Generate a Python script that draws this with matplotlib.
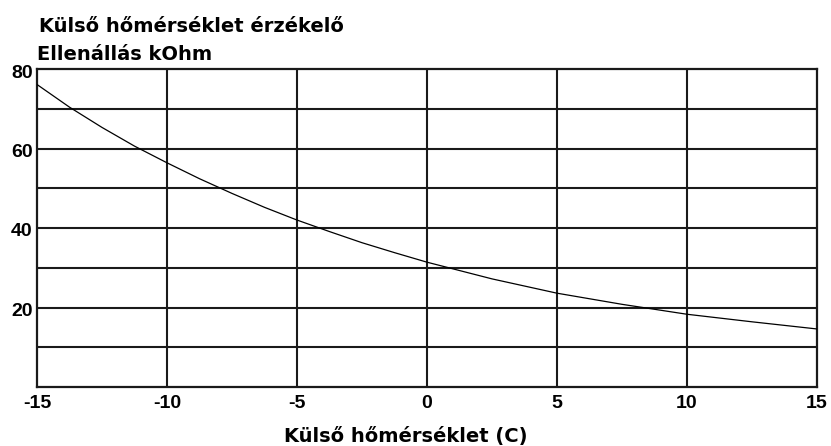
import matplotlib
matplotlib.use("Agg")
from matplotlib import pyplot as plt
from matplotlib import transforms

# ellenállás görbe (kOhm) a külső hőmérséklet függvényében
temps = [-15, -13.75, -12.5, -11.25, -10, -8.75, -7.5, -6.25, -5, -3.75, -2.5, -1.25, 0,
         2.5, 5, 7.5, 10, 12.5, 15]
resistance = [76.1, 70.4, 65.3, 60.6, 56.4, 52.4, 48.7, 45.2, 42.0, 39.1, 36.3, 33.8, 31.4,
              27.2, 23.6, 20.8, 18.3, 16.4, 14.6]

x_ticks = [-15, -10, -5, 0, 5, 10, 15]
y_ticks = [20, 40, 60, 80]
y_grid = [10, 20, 30, 40, 50, 60, 70]

title_lines = ["Külső hőmérséklet érzékelő", "Ellenállás kOhm"]
x_label = "Külső hőmérséklet (C)"

TICK_FONT = dict(family="Liberation Sans", weight="bold", size=14)
TEXT_FONT = dict(family="DejaVu Sans", weight="bold", size=14)


def plot_sensor():
    fig = plt.figure(figsize=(8.31, 4.46), dpi=100)
    ax = fig.add_axes([37 / 831, 1 - 387 / 446, 780 / 831, 318 / 446])

    for x in x_ticks[1:-1]:
        ax.axvline(x, color="#1a1a1a", linewidth=1.5, zorder=1)
    for y in y_grid:
        ax.axhline(y, color="#1a1a1a", linewidth=1.5, zorder=1)

    ax.plot(temps, resistance, color="black", linewidth=0.9, zorder=3)

    ax.set_xlim(-15, 15)
    ax.set_ylim(0, 80)
    ax.set_xticks(x_ticks)
    ax.set_yticks(y_ticks)
    ax.set_xticklabels([str(t) for t in x_ticks], fontdict=TICK_FONT)
    ax.set_yticklabels([str(t) for t in y_ticks], fontdict=TICK_FONT)
    ax.tick_params(length=0)
    ax.tick_params(axis="x", pad=6)
    ax.tick_params(axis="y", pad=3)

    # y feliratok kicsit lejjebb
    shift = transforms.ScaledTranslation(0, -2 / 100, fig.dpi_scale_trans)
    for lbl in ax.get_yticklabels():
        lbl.set_transform(lbl.get_transform() + shift)

    for side in ax.spines.values():
        side.set_color("#1a1a1a")
        side.set_linewidth(1.6)

    fig.text(39 / 831, 1 - 32 / 446, title_lines[0], ha="left", va="baseline", **TEXT_FONT)
    fig.text(37 / 831, 1 - 60 / 446, title_lines[1], ha="left", va="baseline", **TEXT_FONT)
    fig.text(406 / 831, 1 - 442 / 446, x_label, ha="center", va="baseline", **TEXT_FONT)

    fig.savefig("out.png", dpi=100)


if __name__ == "__main__":
    plot_sensor()
